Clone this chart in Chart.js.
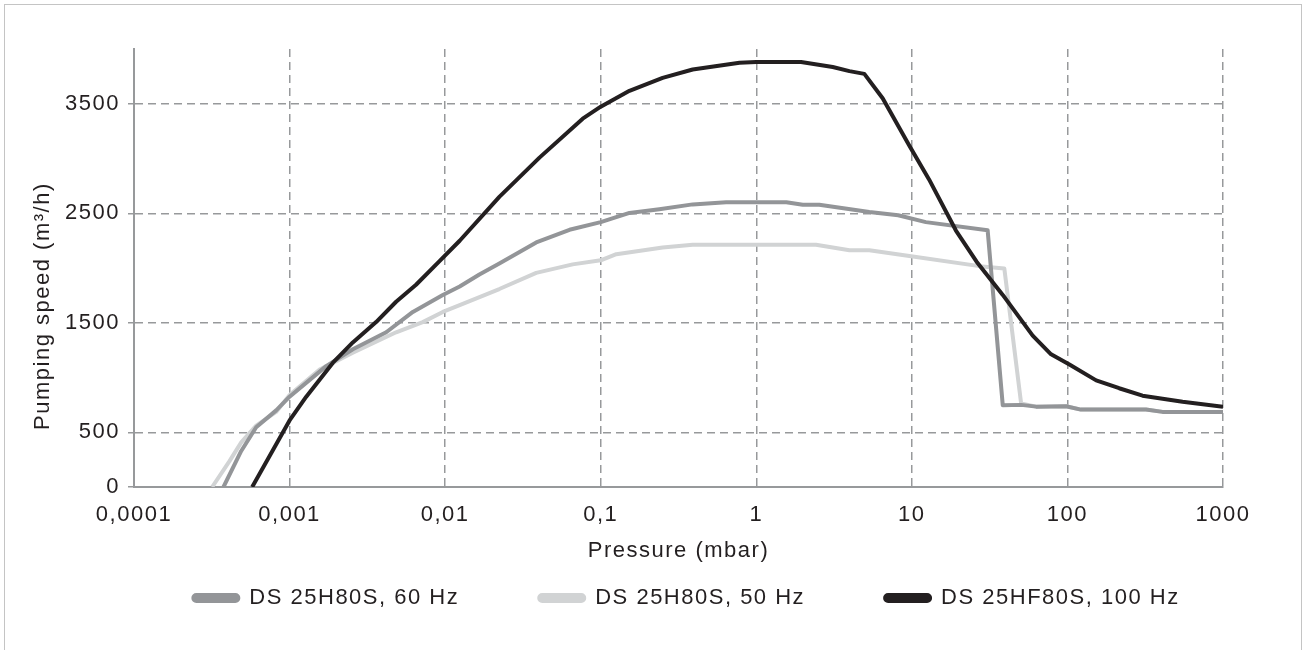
<!DOCTYPE html>
<html>
<head>
<meta charset="utf-8">
<script src="https://cdn.jsdelivr.net/npm/chart.js@4.4.1/dist/chart.umd.min.js"></script>
<style>
  html, body { margin: 0; padding: 0; overflow: hidden; background: #fff; }
  #frame { position: absolute; left: 4px; top: 4px; width: 1298px; height: 700px;
           border: 1px solid #c4c4c4; box-sizing: border-box; }
  #myChart { position: absolute; left: 0; top: 0; }
</style>
</head>
<body>
<div id="frame"></div>
<canvas id="myChart" width="1302" height="650"></canvas>
<script>
var ctx = document.getElementById('myChart');

// axis ticks
var xTicks = [0.0001, 0.001, 0.01, 0.1, 1, 10, 100, 1000];
var xTickLabels = ['0,0001', '0,001', '0,01', '0,1', '1', '10', '100', '1000'];
var yTicks = [0, 500, 1500, 2500, 3500];

var seriesNames = ['DS 25H80S, 60 Hz', 'DS 25H80S, 50 Hz', 'DS 25HF80S, 100 Hz'];

// pressure (mbar) / pumping speed (m3/h)
var pressure60 = [0.000376, 0.000489, 0.00061, 0.00082, 0.001, 0.00172, 0.00255, 0.00418, 0.0062, 0.00966,
                  0.0124, 0.0166, 0.0223, 0.0385, 0.063, 0.1, 0.153, 0.238, 0.39, 0.64, 1.56, 1.99, 2.54,
                  5.33, 8.17, 12.3, 30.7, 38.4, 50.4, 62.9, 98, 122, 320, 409, 1000];
var speed60 = [0, 329, 546, 700, 825, 1104, 1258, 1413, 1599, 1754,
               1831, 1940, 2040, 2233, 2349, 2419, 2503, 2537, 2581, 2600, 2600, 2577, 2577,
               2512, 2482, 2419, 2345, 747, 750, 734, 738, 707, 707, 686, 686];

var pressure50 = [0.000318, 0.000411, 0.000489, 0.00061, 0.00082, 0.001, 0.00156, 0.00255, 0.00484, 0.00718,
                  0.00966, 0.0124, 0.0223, 0.0385, 0.066, 0.1, 0.126, 0.25, 0.39, 2.42, 3.97, 5.33,
                  9.64, 27.2, 39.3, 50.4, 62.9, 98, 122, 320, 409, 1000];
var speed50 = [0, 236, 407, 561, 686, 840, 1072, 1227, 1413, 1506,
               1599, 1661, 1808, 1955, 2033, 2070, 2126, 2187, 2212, 2212, 2163, 2163,
               2110, 2017, 1996, 763, 734, 738, 707, 707, 686, 686];

var pressure100 = [0.000575, 0.001, 0.00128, 0.0019, 0.00255, 0.0036, 0.00484, 0.0065, 0.0092, 0.0124,
                   0.0223, 0.0404, 0.0766, 0.1, 0.153, 0.25, 0.39, 0.78, 1, 1.94, 3.1, 3.97, 4.95,
                   6.49, 9.64, 12.9, 19.2, 26, 38.4, 59.8, 78.5, 103, 153, 215, 304, 550, 1000];
var speed100 = [0, 608, 825, 1135, 1320, 1506, 1692, 1847, 2063, 2249,
                2650, 3008, 3364, 3473, 3618, 3736, 3813, 3875, 3882, 3882, 3835, 3798, 3773,
                3550, 3116, 2809, 2342, 2060, 1754, 1383, 1212, 1119, 974, 902, 834, 779, 732];

function points(xs, ys) {
  return xs.map(function (x, i) { return { x: x, y: ys[i] }; });
}

var textColor = '#231f20';
var gridColor = '#97999b';
var font = { family: "'Liberation Sans', Arial, sans-serif", size: 22 };

function line(label, data, color, order) {
  return {
    label: label,
    data: data,
    borderColor: color,
    backgroundColor: color,
    borderWidth: 4,
    pointRadius: 0,
    tension: 0,
    fill: false,
    borderJoinStyle: 'round',
    order: order
  };
}

// wider letter spacing like the original typeface, and legend placement
var tweaks = {
  id: 'tweaks',
  beforeLayout: function (chart) { chart.ctx.letterSpacing = '1.5px'; },
  afterLayout: function (chart) {
    var lg = chart.legend;
    lg.left += 75;
    lg.right += 75;
    lg.top = 507;
  },
  beforeDraw: function (chart) { chart.ctx.letterSpacing = '1.5px'; }
};

var myChart = new Chart(ctx, {
  type: 'line',
  data: {
    datasets: [
      line(seriesNames[0], points(pressure60, speed60), '#939598', 1),
      line(seriesNames[1], points(pressure50, speed50), '#d1d3d4', 2),
      line(seriesNames[2], points(pressure100, speed100), '#231f20', 0)
    ]
  },
  options: {
    responsive: false,
    animation: false,
    layout: { padding: { left: 0, right: 79, top: 49, bottom: 13 } },
    plugins: {
      tooltip: { enabled: false },
      legend: {
        position: 'bottom',
        maxHeight: 60,
        labels: {
          color: textColor,
          font: font,
          boxWidth: 45,
          boxHeight: 6,
          useBorderRadius: true,
          borderRadius: 3,
          padding: 80,
          sort: function (a, b) { return a.datasetIndex - b.datasetIndex; }
        }
      }
    },
    scales: {
      x: {
        type: 'logarithmic',
        min: 0.0001,
        max: 1000,
        afterBuildTicks: function (s) { s.ticks = xTicks.map(function (v) { return { value: v }; }); },
        afterFit: function (s) { s.height = 90; },
        ticks: {
          color: textColor,
          font: font,
          padding: 15,
          maxRotation: 0,
          autoSkip: false,
          callback: function (v) { return xTickLabels[xTicks.indexOf(v)]; }
        },
        grid: { color: gridColor, lineWidth: 1.5, drawTicks: false },
        border: { color: gridColor, width: 2, dash: [8, 5] },
        title: {
          display: true,
          text: 'Pressure (mbar)',
          color: textColor,
          font: font,
          padding: { top: 0, bottom: 13 }
        }
      },
      y: {
        min: 0,
        max: 4000,
        afterBuildTicks: function (s) { s.ticks = yTicks.map(function (v) { return { value: v }; }); },
        afterFit: function (s) { s.width = 134; },
        ticks: {
          color: textColor,
          font: font,
          padding: 8,
          callback: function (v) { return String(v); }
        },
        grid: {
          color: gridColor, lineWidth: 1.5,
          tickLength: 6, tickColor: gridColor, tickBorderDash: []
        },
        border: { color: gridColor, width: 2, dash: [8, 5] },
        title: {
          display: true,
          text: 'Pumping speed (m\u00b3/h)' + '          ',
          color: textColor,
          font: font,
          padding: { top: 30, bottom: 0 }
        }
      }
    }
  },
  plugins: [tweaks]
});
</script>
</body>
</html>
